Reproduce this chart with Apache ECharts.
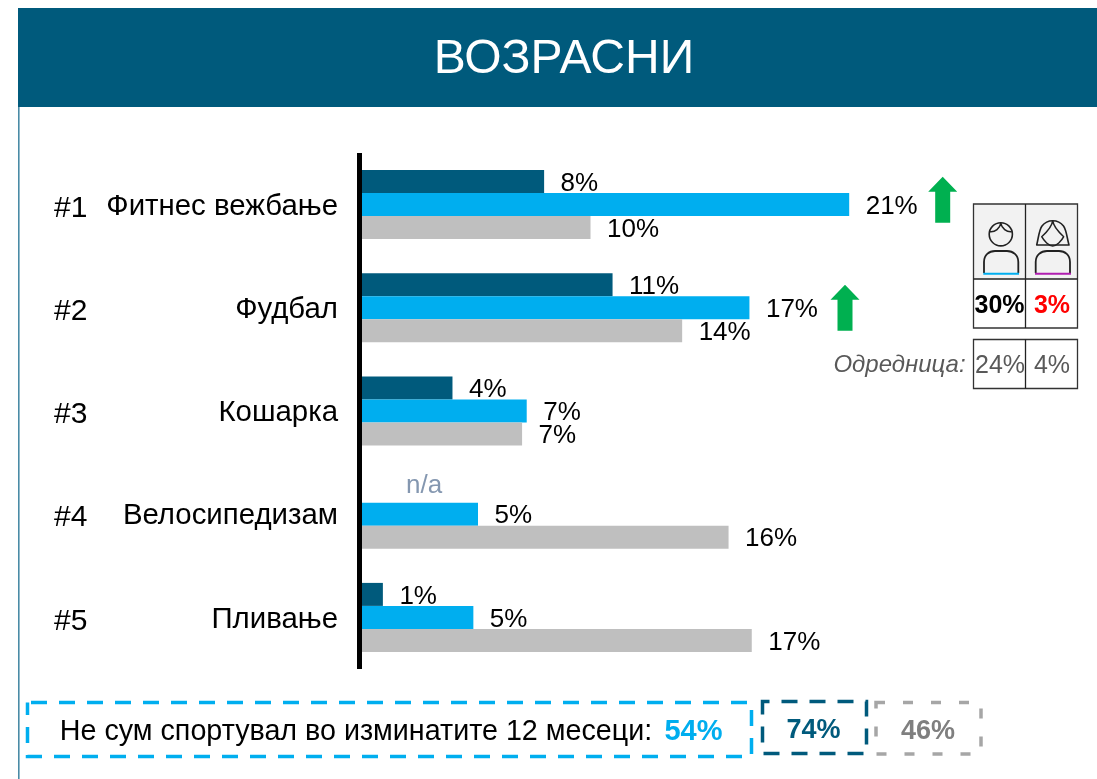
<!DOCTYPE html>
<html><head><meta charset="utf-8">
<style>html,body{margin:0;padding:0;background:#fff}#c{width:1097px;height:779px}</style>
<script src="https://cdn.jsdelivr.net/npm/echarts@6/dist/echarts.min.js"></script>
</head><body><div id="c"></div>
<script>
const categories = ['Фитнес вежбање','Фудбал','Кошарка','Велосипедизам','Пливање'];
const ranks = ['#1','#2','#3','#4','#5'];
const seriesDark = [7.85,10.8,3.9,null,0.9];
const seriesBlue = [21.0,16.7,7.1,5.0,4.8];
const seriesGray = [9.85,13.8,6.9,15.8,16.8];
const labelsDark = ['8%','11%','4%','n/a','1%'];
const labelsBlue = ['21%','17%','7%','5%','5%'];
const labelsGray = ['10%','14%','7%','16%','17%'];
const FONT = '"Liberation Sans", Arial, sans-serif';
const DARK='#005A7C', BLUE='#00AEEF', GRAY='#BFBFBF', GREEN='#00B050';

function mkSeries(name, values, labels, color){
  return {
    name, type:'bar', barWidth:23, barGap:0, itemStyle:{color}, silent:true,
    data: values.map((v,i)=> v===null
      ? {value:0, label:{show:true,formatter:labels[i],color:'#8497B0',distance:44,offset:[0,-5]}}
      : {value:v}),
    label:{show:true, position:'right', distance:16.5, offset:[0,2], fontFamily:FONT, fontSize:26, color:'#000',
      formatter:p=>labels[p.dataIndex]}
  };
}
function txt(x,y,text,size,color,opts={}){
  return {type:'text',x,y,silent:true,style:Object.assign({text,fontFamily:FONT,fontSize:size,fill:color,
    align:'center',verticalAlign:'middle'},opts)};
}
function rect(x,y,w,h,fill,stroke,lw,dash,dashOff){
  return {type:'rect',silent:true,shape:{x,y,width:w,height:h},
    style:{fill:fill||'none',stroke:stroke||'none',lineWidth:lw||0,lineDash:dash||null,lineDashOffset:dashOff||0}};
}
function arrow(cx,tip){
  return {type:'polygon',silent:true,shape:{points:[[cx,tip],[cx+14.5,tip+15],[cx+7.5,tip+15],[cx+7.5,tip+46],[cx-7.5,tip+46],[cx-7.5,tip+15],[cx-14.5,tip+15]]},style:{fill:GREEN}};
}
let shapeId=0;
function line(p,stroke,lw){
  const name='svgShape'+(shapeId++);
  echarts.graphic.registerShape(name,echarts.graphic.extendPath(p,{}));
  return {type:name,silent:true,shape:{},style:{fill:'none',stroke,lineWidth:lw,lineJoin:'round'}};
}

const L=973.5,M=1025.5,R=1077.5;
const graphics=[
  rect(18,8,1079,99,DARK),
  rect(18,107,1.6,672,'#4A8BA6'),
  txt(564,60,'ВОЗРАСНИ',48,'#fff'),
  rect(357,153,5,516,'#000'),
  arrow(942.7,176.7), arrow(845,284.7),
  rect(L,204,R-L,75,'#F2F2F2'),
  rect(L,204,R-L,124,null,'#333',1.3),
  line(`M${L} 279H${R}M${M} 204V328`,'#222',1.3),
  rect(L,339.5,R-L,49,null,'#333',1.3),
  line(`M${M} 339.5V388.5`,'#222',1.3),
  // male icon
  {type:'circle',silent:true,shape:{cx:1000.8,cy:234.3,r:11.6},style:{fill:'none',stroke:'#222',lineWidth:1.6}},
  line('M990 231.7C995 232.3 1000 228.3 1000.8 223C1001.6 228.3 1006.7 232.3 1011.7 231.7','#222',1.5),
  line('M984 273V262C984 255 989 251 995 251H1007C1013 251 1018.3 255 1018.3 262V273','#222',1.8),
  rect(983.3,272.7,35.7,2,'#00AEEF'),
  // female icon
  line('M1036.7 245C1038.5 238 1039 230 1042 226C1045 222 1049 220.7 1052.7 220.7C1056.5 220.7 1060.5 222 1063.5 226C1066.5 230 1067 238 1069 245Z','#222',1.6),
  line('M1052.7 220.7C1052 227 1047 232 1041.7 236.7C1044 241 1049 246 1052.7 246C1056.5 246 1061.5 241 1063.7 236.7C1058.5 232 1053.5 227 1052.7 220.7','#222',1.5),
  line('M1035.7 273V262C1035.7 255 1041 251 1047 251H1059C1065 251 1070 255 1070 262V273','#222',1.8),
  rect(1035,272.7,36,2,'#B01EB0'),
  txt(999.5,306.5,'30%',25,'#000',{fontWeight:'bold'}),
  txt(1052,306.5,'3%',25,'#FF0000',{fontWeight:'bold'}),
  txt(899.5,365.5,'Одредница:',24,'#595959',{fontStyle:'italic'}),
  txt(1000,366.5,'24%',25,'#595959'),
  txt(1052,366.5,'4%',25,'#595959'),
  rect(27.5,702.5,724,54,null,BLUE,3.5,[16,12],24.5),
  rect(762.5,701.5,104,52,null,DARK,3.5,[16,12],9),
  rect(876,702.5,105,51.5,null,'#A6A6A6',3.5,[10,18],1),
  txt(356,732,'Не сум спортувал во изминатите 12 месеци:',28.7,'#000'),
  txt(693.5,731.5,'54%',29,BLUE,{fontWeight:'bold'}),
  txt(813.5,730.5,'74%',27,DARK,{fontWeight:'bold'}),
  txt(928,731.5,'46%',27,'#7F7F7F',{fontWeight:'bold'})
];

const chart=echarts.init(document.getElementById('c'),null,{renderer:'canvas'});
chart.setOption({
  animation:false,
  backgroundColor:'#fff',
  grid:{left:362,top:153,width:580,height:516,containLabel:false},
  xAxis:{type:'value',min:0,max:25,show:false},
  yAxis:[
    {type:'category',inverse:true,data:categories,
     axisLine:{show:false},axisTick:{show:false},
     axisLabel:{margin:24,formatter:v=>`{a|${v}}`,
       rich:{a:{padding:[4,0,0,0],fontFamily:FONT,fontSize:29.4,color:'#000'}}}},
    {type:'category',inverse:true,data:ranks,position:'left',offset:308,
     axisLine:{show:false},axisTick:{show:false},
     axisLabel:{margin:0,align:'left',formatter:v=>`{a|${v}}`,
       rich:{a:{padding:[8,0,0,0],fontFamily:FONT,fontSize:30,color:'#000'}}}}
  ],
  series:[
    mkSeries('Dark',seriesDark,labelsDark,DARK),
    mkSeries('Blue',seriesBlue,labelsBlue,BLUE),
    mkSeries('Gray',seriesGray,labelsGray,GRAY)
  ],
  graphic:graphics
});
</script></body></html>
